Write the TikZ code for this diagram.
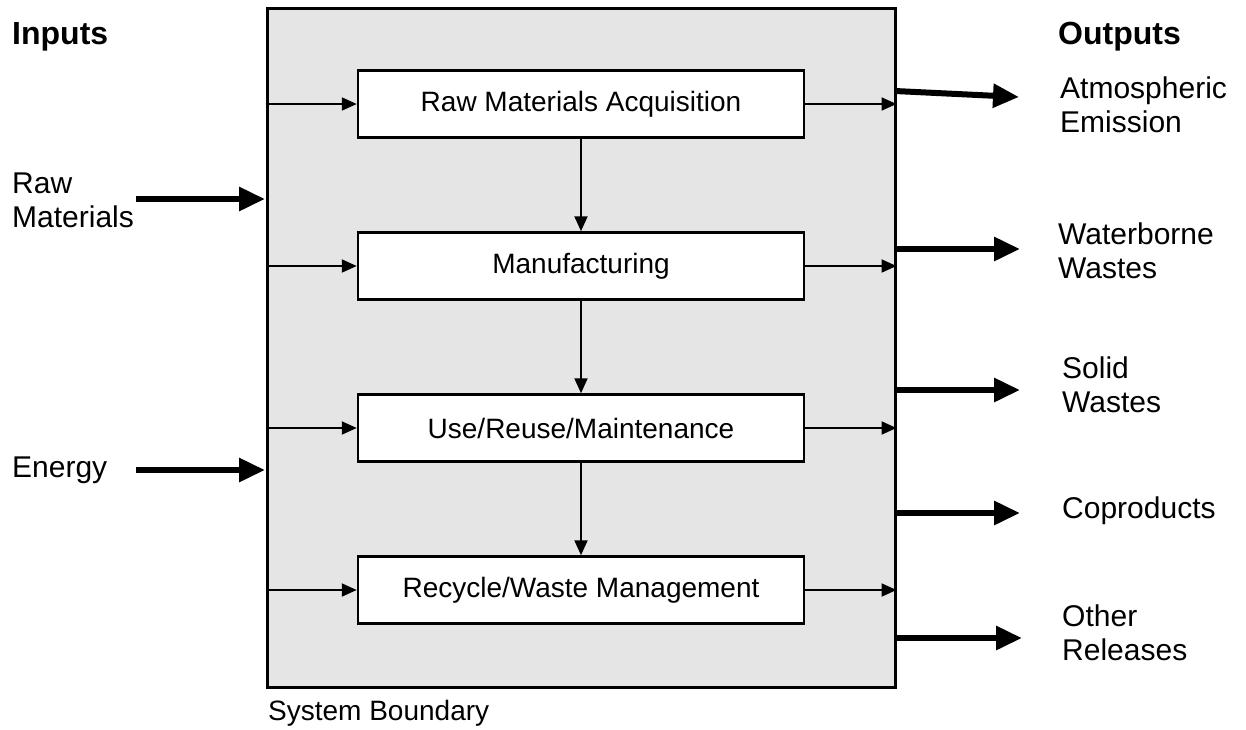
\documentclass[tikz,border=0pt]{standalone}
\usepackage{fontspec}
\setmainfont{Liberation Sans}
\usetikzlibrary{arrows.meta}
\definecolor{boundgray}{RGB}{229,229,229}
\tikzset{
  stage/.style={draw, line width=2.5pt, fill=white, minimum width=446pt, minimum height=67pt, inner sep=0pt, font=\fontsize{28}{32}\selectfont},
  flow/.style={line width=2pt, -{Triangle[length=15pt,width=13pt]}},
  bigflow/.style={line width=6pt, -{Triangle[length=26pt,width=23pt]}},
  lbl/.style={anchor=north west, inner sep=0pt, align=left, font=\fontsize{30}{34}\selectfont},
  head/.style={anchor=north west, inner sep=0pt, font=\bfseries\fontsize{32}{36}\selectfont}
}
\begin{document}
\begin{tikzpicture}[x=1pt, y=-1pt]
  \useasboundingbox (0,0) rectangle (1246,729);
  % System boundary
  \node[draw, line width=3pt, fill=boundgray, minimum width=628pt, minimum height=679pt, inner sep=0pt] (bound) at (581,347.5) {};
  \node[lbl, font=\fontsize{28}{32}\selectfont] (sysb) at (268,700) {System Boundary};

  % Life-cycle stages
  \node[stage] (raw) at (581,104) {Raw Materials Acquisition};
  \node[stage] (manu) at (581,266) {Manufacturing};
  \node[stage] (use) at (581,428) {Use/Reuse/Maintenance};
  \node[stage] (recy) at (581,590) {Recycle/Waste Management};

  % Flow between stages
  \foreach \a/\b in {raw/manu, manu/use, use/recy}
    \draw[flow] (\a) -- (\b);

  % Thin arrows in and out of each stage
  \foreach \s in {raw, manu, use, recy} {
    \draw[flow] (bound.west |- \s.west) -- (\s.west);
    \draw[flow] (\s.east) -- (bound.east |- \s.east);
  }

  % Inputs
  \node[head] (inputs) at (12,22) {Inputs};
  \node[lbl] (rawin) at (12,173) {Raw\\Materials};
  \node[lbl] (energy) at (12,457) {Energy};
  \coordinate (rawtail) at (136,199);
  \coordinate (rawtip) at (265,199);
  \coordinate (entail) at (136,470);
  \coordinate (entip) at (265,470);
  \draw[bigflow] (rawtail) -- (rawtip);
  \draw[bigflow] (entail) -- (entip);

  % Outputs
  \node[head] (outputs) at (1058,22) {Outputs};
  \node[lbl] (atmo) at (1060,77) {Atmospheric\\Emission};
  \node[lbl] (water) at (1058,223) {Waterborne\\Wastes};
  \node[lbl] (solid) at (1062,357) {Solid\\Wastes};
  \node[lbl] (copro) at (1062,497) {Coproducts};
  \node[lbl] (other) at (1062,605) {Other\\Releases};
  \coordinate (atmoout) at (895,91);
  \coordinate (atmotip) at (1019,97);
  \coordinate (waterout) at (895,249);
  \coordinate (watertip) at (1020,249);
  \coordinate (solidout) at (895,390);
  \coordinate (solidtip) at (1020,390);
  \coordinate (coproout) at (895,513);
  \coordinate (coprotip) at (1020,513);
  \coordinate (otherout) at (895,638);
  \coordinate (othertip) at (1022,638);
  \draw[bigflow] (atmoout) -- (atmotip);
  \draw[bigflow] (waterout) -- (watertip);
  \draw[bigflow] (solidout) -- (solidtip);
  \draw[bigflow] (coproout) -- (coprotip);
  \draw[bigflow] (otherout) -- (othertip);
\end{tikzpicture}
\end{document}
